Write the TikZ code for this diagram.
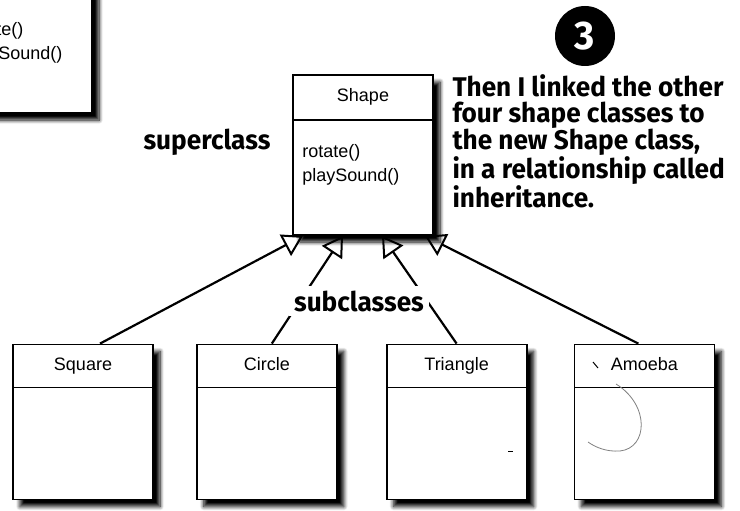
\documentclass[tikz,border=0pt]{standalone}
\usepackage{fontspec}
\setmainfont{Liberation Sans}
\newfontfamily\handfont[FakeStretch=0.97]{Fira Sans}
\usetikzlibrary{arrows.meta, positioning, shadows.blur}
\tikzstyle{classbox} = [rectangle, draw=black, line width=1.8pt, fill=white, minimum width=140pt, minimum height=155pt, blur shadow={shadow xshift=7pt, shadow yshift=-7pt, shadow blur radius=4pt, shadow blur steps=8, shadow opacity=100}]
\tikzstyle{classname} = [rectangle, draw=black, line width=1.8pt, fill=white, minimum width=140pt, minimum height=43pt, anchor=north, text height=13pt, text depth=4pt, font=\fontsize{18}{22}\selectfont]
\tikzstyle{methods} = [align=left, anchor=north west, inner sep=0pt, font=\fontsize{18}{24}\selectfont]
\tikzstyle{hand} = [font=\handfont\bfseries\fontsize{27}{26}\selectfont]
\tikzstyle{inherit} = [line width=2.2pt, -{Triangle[open, length=20pt, width=24pt, line width=2pt]}]

\begin{document}
\begin{tikzpicture}[x=1pt, y=-1pt]
\useasboundingbox (0,0) rectangle (740,511);
\clip (0,0) rectangle (740,511);

% earlier class, cut off
\node (oldshape) [classbox, minimum height=160pt] at (22,33) {};
\node [methods] at ([xshift=14pt,yshift=-70pt]oldshape.north west) {rotate()\\playSound()};

% superclass
\node (shape) [classbox, minimum height=160pt] at (363,155) {};
\node (shapename) [classname, minimum height=45pt] at (shape.north) {Shape};
\node [methods] at ([xshift=10pt,yshift=-70pt]shape.north west) {rotate()\\playSound()};

% subclasses
\node (square) [classbox] at (83,422) {};
\node (circle) [classbox, right=42pt of square] {};
\node (triangle) [classbox, right=48pt of circle] {};
\node (amoeba) [classbox, right=46pt of triangle] {};
\node (squarename) [classname] at (square.north) {Square};
\node (circlename) [classname] at (circle.north) {Circle};
\node (trianglename) [classname] at (triangle.north) {Triangle};
\node (amoebaname) [classname] at (amoeba.north) {Amoeba\hspace{8pt}};

\draw [inherit] ([xshift=17pt]square.north) -- ([xshift=-60pt]shape.south);
\draw [inherit] ([xshift=5pt]circle.north) -- ([xshift=-20pt]shape.south);
\draw [inherit] (triangle.north) -- ([xshift=19pt]shape.south);
\draw [inherit] ([xshift=-6pt]amoeba.north) -- ([xshift=62pt]shape.south);

\node (super) [hand] at (207,142) {superclass};
\node (sub) [hand, fill=white, inner sep=5pt] at (359,301) {subclasses};

\node (num) [circle, fill=black, minimum size=60pt, inner sep=0pt, text=white, font=\handfont\bfseries\fontsize{40}{40}\selectfont] at (585,36) {3};
\node (story) [hand, align=left, anchor=west] at (449,141) {Then I linked the other\\four shape classes to\\the new Shape class,\\in a relationship called\\inheritance.};

% stray pencil marks
\draw [line width=1pt] (593,362) -- (598,368);
\draw [gray, line width=0.8pt] (616,384) .. controls (650,405) and (648,448) .. (620,451) .. controls (606,452) and (595,447) .. (588,442);
\draw [line width=1pt] (508,451) -- (513,451);

\end{tikzpicture}
\end{document}
